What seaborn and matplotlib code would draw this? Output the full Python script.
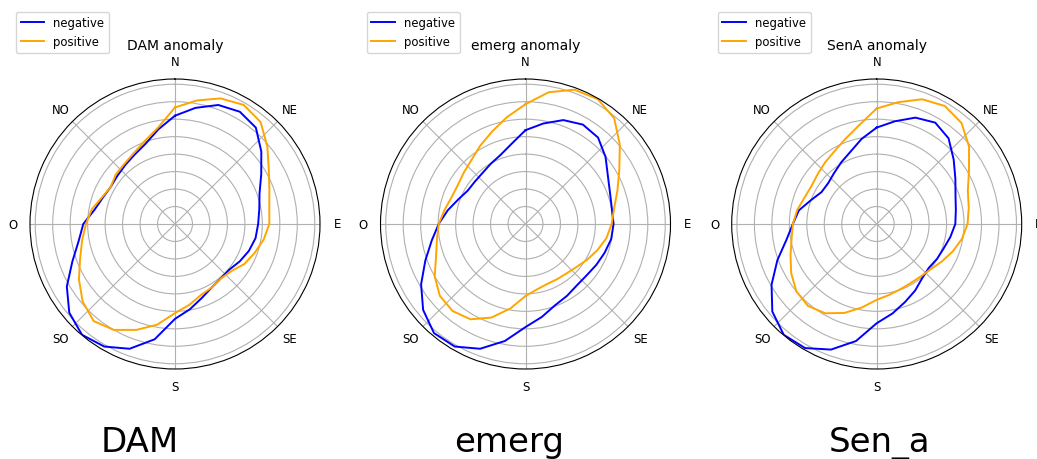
import numpy as np
import pandas as pd
import matplotlib
matplotlib.use("Agg")
import matplotlib.pyplot as plt
from matplotlib.lines import Line2D
import seaborn as sns

# ---------------- data ----------------
directions_deg = list(range(0, 360, 10))
compass_deg = [0, 45, 90, 135, 180, 225, 270, 315]
compass_labels = ["N", "NE", "E", "SE", "S", "SO", "O", "NO"]
panel_titles = ["DAM anomaly", "emerg anomaly", "SenA anomaly"]
panel_names = ["DAM", "emerg", "Sen_a"]
series_labels = ["negative", "positive"]
series_colors = ["blue", "orange"]

dam_negative = [6.2, 6.75, 7.25, 7.42, 7.2, 6.45, 5.7, 5.15, 4.9, 4.76, 4.68, 4.5,
                4.28, 4.06, 4.07, 4.2, 4.5, 4.95, 5.43, 6.7, 7.6, 8.1, 8.28, 7.9,
                7.15, 6.25, 5.6, 5.25, 4.68, 4.4, 4.25, 4.3, 4.42, 4.6, 4.9, 5.5]
dam_positive = [6.67, 7.18, 7.65, 7.87, 7.62, 6.9, 6.2, 5.75, 5.48, 5.4, 5.15, 4.85,
                4.58, 4.2, 4.08, 4.2, 4.33, 4.7, 5.1, 5.85, 6.45, 7.0, 7.25, 6.9,
                6.35, 5.78, 5.4, 5.1, 4.84, 4.45, 4.25, 4.42, 4.5, 4.7, 5.06, 5.6]

emerg_negative = [5.37, 5.84, 6.33, 6.57, 6.46, 5.98, 5.45, 5.15, 5.02, 5.04, 4.98, 4.82,
                  4.68, 4.57, 4.58, 4.75, 4.95, 5.4, 5.9, 6.8, 7.6, 8.1, 8.15, 7.65,
                  6.9, 6.1, 5.45, 4.97, 4.52, 4.1, 3.82, 3.78, 3.82, 3.98, 4.2, 4.65]
emerg_positive = [6.86, 7.66, 8.18, 8.26, 7.9, 7.05, 6.2, 5.6, 5.15, 4.93, 4.7, 4.38,
                  4.08, 3.82, 3.68, 3.64, 3.65, 3.8, 4.12, 4.9, 5.7, 6.3, 6.5, 6.4,
                  6.0, 5.45, 5.15, 4.97, 4.7, 4.5, 4.47, 4.6, 4.8, 5.18, 5.62, 6.2]

sena_negative = [5.52, 5.97, 6.48, 6.7, 6.4, 5.75, 5.2, 4.8, 4.6, 4.5, 4.28, 4.08,
                 3.99, 3.9, 4.05, 4.4, 4.75, 5.2, 5.68, 6.8, 7.65, 8.2, 8.28, 7.8,
                 6.95, 6.05, 5.25, 4.8, 4.52, 4.0, 3.65, 3.63, 3.8, 4.07, 4.4, 4.95]
sena_positive = [6.61, 7.08, 7.6, 7.8, 7.55, 6.9, 6.1, 5.55, 5.35, 5.2, 4.95, 4.62,
                 4.3, 4.03, 3.92, 3.9, 3.97, 4.12, 4.34, 4.85, 5.42, 5.9, 6.12, 6.0,
                 5.65, 5.25, 4.95, 4.8, 4.62, 4.4, 4.32, 4.42, 4.6, 4.82, 5.2, 5.75]

panel_data = [
    (dam_negative, dam_positive),
    (emerg_negative, emerg_positive),
    (sena_negative, sena_positive),
]

radial_grid = [1, 2, 3, 4, 5, 6, 7, 8]
r_max = 8.3

# ---------------- layout ----------------
W, H = 1037, 460
fig = plt.figure(figsize=(W / 100, H / 100), dpi=100)
fig.patch.set_facecolor("white")

centers_x = [175, 525.5, 876.7]
center_y = 225
radius = 145
name_x = [139.5, 509, 880]
name_baseline = 452.5
title_baseline = 50

for i, (neg, pos) in enumerate(panel_data):
    cx = centers_x[i]
    ax = fig.add_axes([(cx - radius) / W, (H - center_y - radius) / H,
                       2 * radius / W, 2 * radius / H], projection="polar")
    rows = []
    for lab, vals in zip(series_labels, (neg, pos)):
        angs = directions_deg + [360]
        rs = list(vals) + [vals[0]]
        for a, r in zip(angs, rs):
            rows.append({"theta": np.deg2rad(a), "r": r, "anomaly": lab})
    df = pd.DataFrame(rows)
    sns.lineplot(data=df, x="theta", y="r", hue="anomaly",
                 palette=dict(zip(series_labels, series_colors)),
                 sort=False, estimator=None, legend=False, lw=1.4, ax=ax)
    ax.set_theta_zero_location("N")
    ax.set_theta_direction(-1)
    ax.set_xticks(np.deg2rad(compass_deg))
    ax.set_xticklabels(compass_labels)
    ax.set_yticks(radial_grid)
    ax.set_yticklabels([])
    ax.set_ylim(0, r_max)
    ax.set_xlabel("")
    ax.set_ylabel("")
    ax.grid(True, color="#b0b0b0", lw=0.8)
    ax.tick_params(axis="x", labelsize=8.4, pad=1.8)
    ax.spines["polar"].set_color("black")
    ax.spines["polar"].set_linewidth(0.8)
    title_y = (center_y + radius - title_baseline) / (2 * radius)
    ax.set_title(panel_titles[i], fontsize=10, y=title_y, pad=0)
    handles = [Line2D([], [], color=c, lw=1.4) for c in series_colors]
    ax.legend(handles, series_labels, loc="upper left",
              bbox_to_anchor=(-0.048, 1.232),
              borderaxespad=0, fontsize=8.4, framealpha=0.8)
    fig.text(name_x[i] / W, 1 - name_baseline / H, panel_names[i],
             ha="center", va="baseline", fontsize=24.5)

fig.savefig("out.png", dpi=100, facecolor="white")
